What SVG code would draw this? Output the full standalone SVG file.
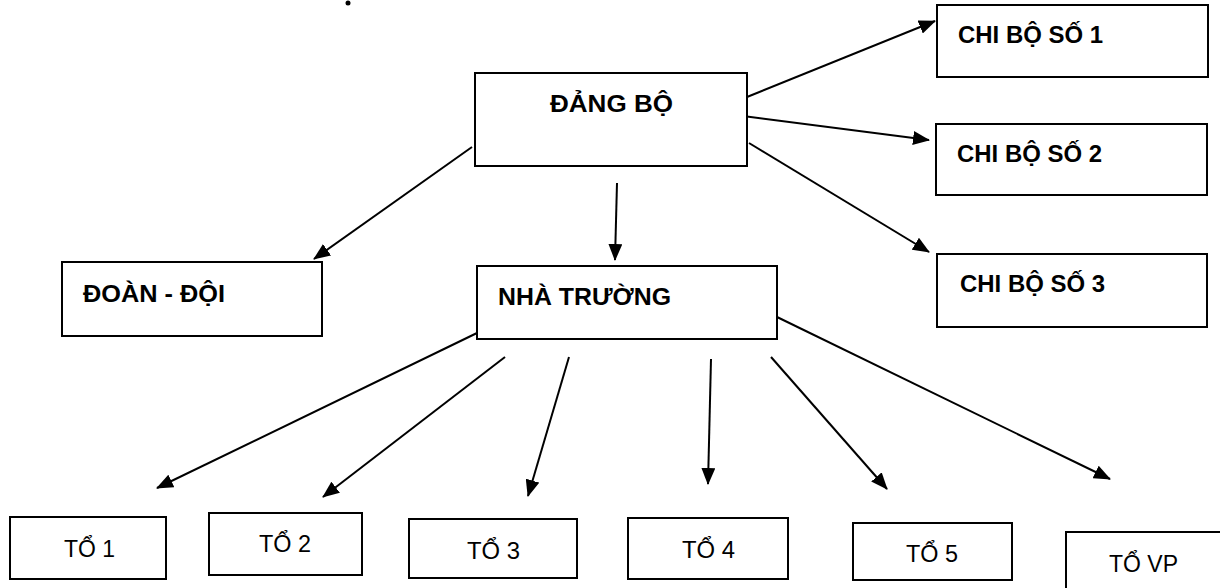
<svg xmlns="http://www.w3.org/2000/svg" width="1220" height="588" viewBox="0 0 1220 588">
<style>
.box{fill:#fff;stroke:#000;stroke-width:2}
.b{font-family:"Liberation Sans",Arial,sans-serif;font-weight:bold;font-size:24px;fill:#000}
.r{font-family:"Liberation Sans",Arial,sans-serif;font-size:24px;fill:#000}
.c{stroke:#000;stroke-width:2;fill:none;marker-end:url(#ah)}
</style>
<defs>
<marker id="ah" markerUnits="userSpaceOnUse" markerWidth="18" markerHeight="14" refX="16" refY="7" orient="auto">
<path d="M0,0 L17,7 L0,14 Z" fill="#000"/>
</marker>
</defs>
<rect width="1220" height="588" fill="#fff"/>
<circle cx="348" cy="3" r="2.5" fill="#000"/>
<g id="connectors">
<line class="c" x1="472" y1="147" x2="314" y2="259"/>
<line class="c" x1="747" y1="97" x2="935" y2="21"/>
<line class="c" x1="743" y1="116" x2="929" y2="140"/>
<line class="c" x1="749" y1="143" x2="929" y2="252"/>
<line class="c" x1="617" y1="183" x2="615" y2="260"/>
<line class="c" x1="477" y1="333" x2="157" y2="488"/>
<line class="c" x1="505" y1="357" x2="323" y2="497"/>
<line class="c" x1="569" y1="357" x2="528" y2="496"/>
<line class="c" x1="711" y1="359" x2="708" y2="484"/>
<line class="c" x1="771" y1="357" x2="887" y2="489"/>
<line class="c" x1="777" y1="317" x2="1110" y2="479"/>
</g>
<g id="dang-bo"><rect class="box" x="475" y="73" width="272" height="93"/><text class="b" x="550" y="112" textLength="123" lengthAdjust="spacingAndGlyphs">ĐẢNG  BỘ</text></g>
<g id="chi-bo-1"><rect class="box" x="937" y="5" width="271" height="72"/><text class="b" x="958" y="43" textLength="145" lengthAdjust="spacingAndGlyphs">CHI BỘ SỐ 1</text></g>
<g id="chi-bo-2"><rect class="box" x="936" y="124" width="271" height="71"/><text class="b" x="957" y="162" textLength="145" lengthAdjust="spacingAndGlyphs">CHI BỘ SỐ 2</text></g>
<g id="chi-bo-3"><rect class="box" x="937" y="254" width="270" height="73"/><text class="b" x="960" y="292" textLength="145" lengthAdjust="spacingAndGlyphs">CHI BỘ SỐ 3</text></g>
<g id="doan-doi"><rect class="box" x="62" y="262" width="260" height="74"/><text class="b" x="83" y="302" textLength="142" lengthAdjust="spacingAndGlyphs">ĐOÀN - ĐỘI</text></g>
<g id="nha-truong"><rect class="box" x="477" y="266" width="300" height="73"/><text class="b" x="498" y="305" textLength="173" lengthAdjust="spacingAndGlyphs">NHÀ TRƯỜNG</text></g>
<g id="to-1"><rect class="box" x="10" y="517" width="156" height="62"/><text class="r" x="64" y="557" textLength="51" lengthAdjust="spacingAndGlyphs">TỔ 1</text></g>
<g id="to-2"><rect class="box" x="209" y="513" width="153" height="62"/><text class="r" x="259" y="552" textLength="52" lengthAdjust="spacingAndGlyphs">TỔ 2</text></g>
<g id="to-3"><rect class="box" x="409" y="519" width="168" height="59"/><text class="r" x="467" y="559" textLength="53" lengthAdjust="spacingAndGlyphs">TỔ 3</text></g>
<g id="to-4"><rect class="box" x="628" y="518" width="160" height="61"/><text class="r" x="682" y="558" textLength="53" lengthAdjust="spacingAndGlyphs">TỔ 4</text></g>
<g id="to-5"><rect class="box" x="853" y="523" width="159" height="57"/><text class="r" x="906" y="562" textLength="52" lengthAdjust="spacingAndGlyphs">TỔ 5</text></g>
<g id="to-vp"><rect class="box" x="1066" y="532" width="160" height="70"/><text class="r" x="1109" y="572" textLength="69" lengthAdjust="spacingAndGlyphs">TỔ VP</text></g>
</svg>
